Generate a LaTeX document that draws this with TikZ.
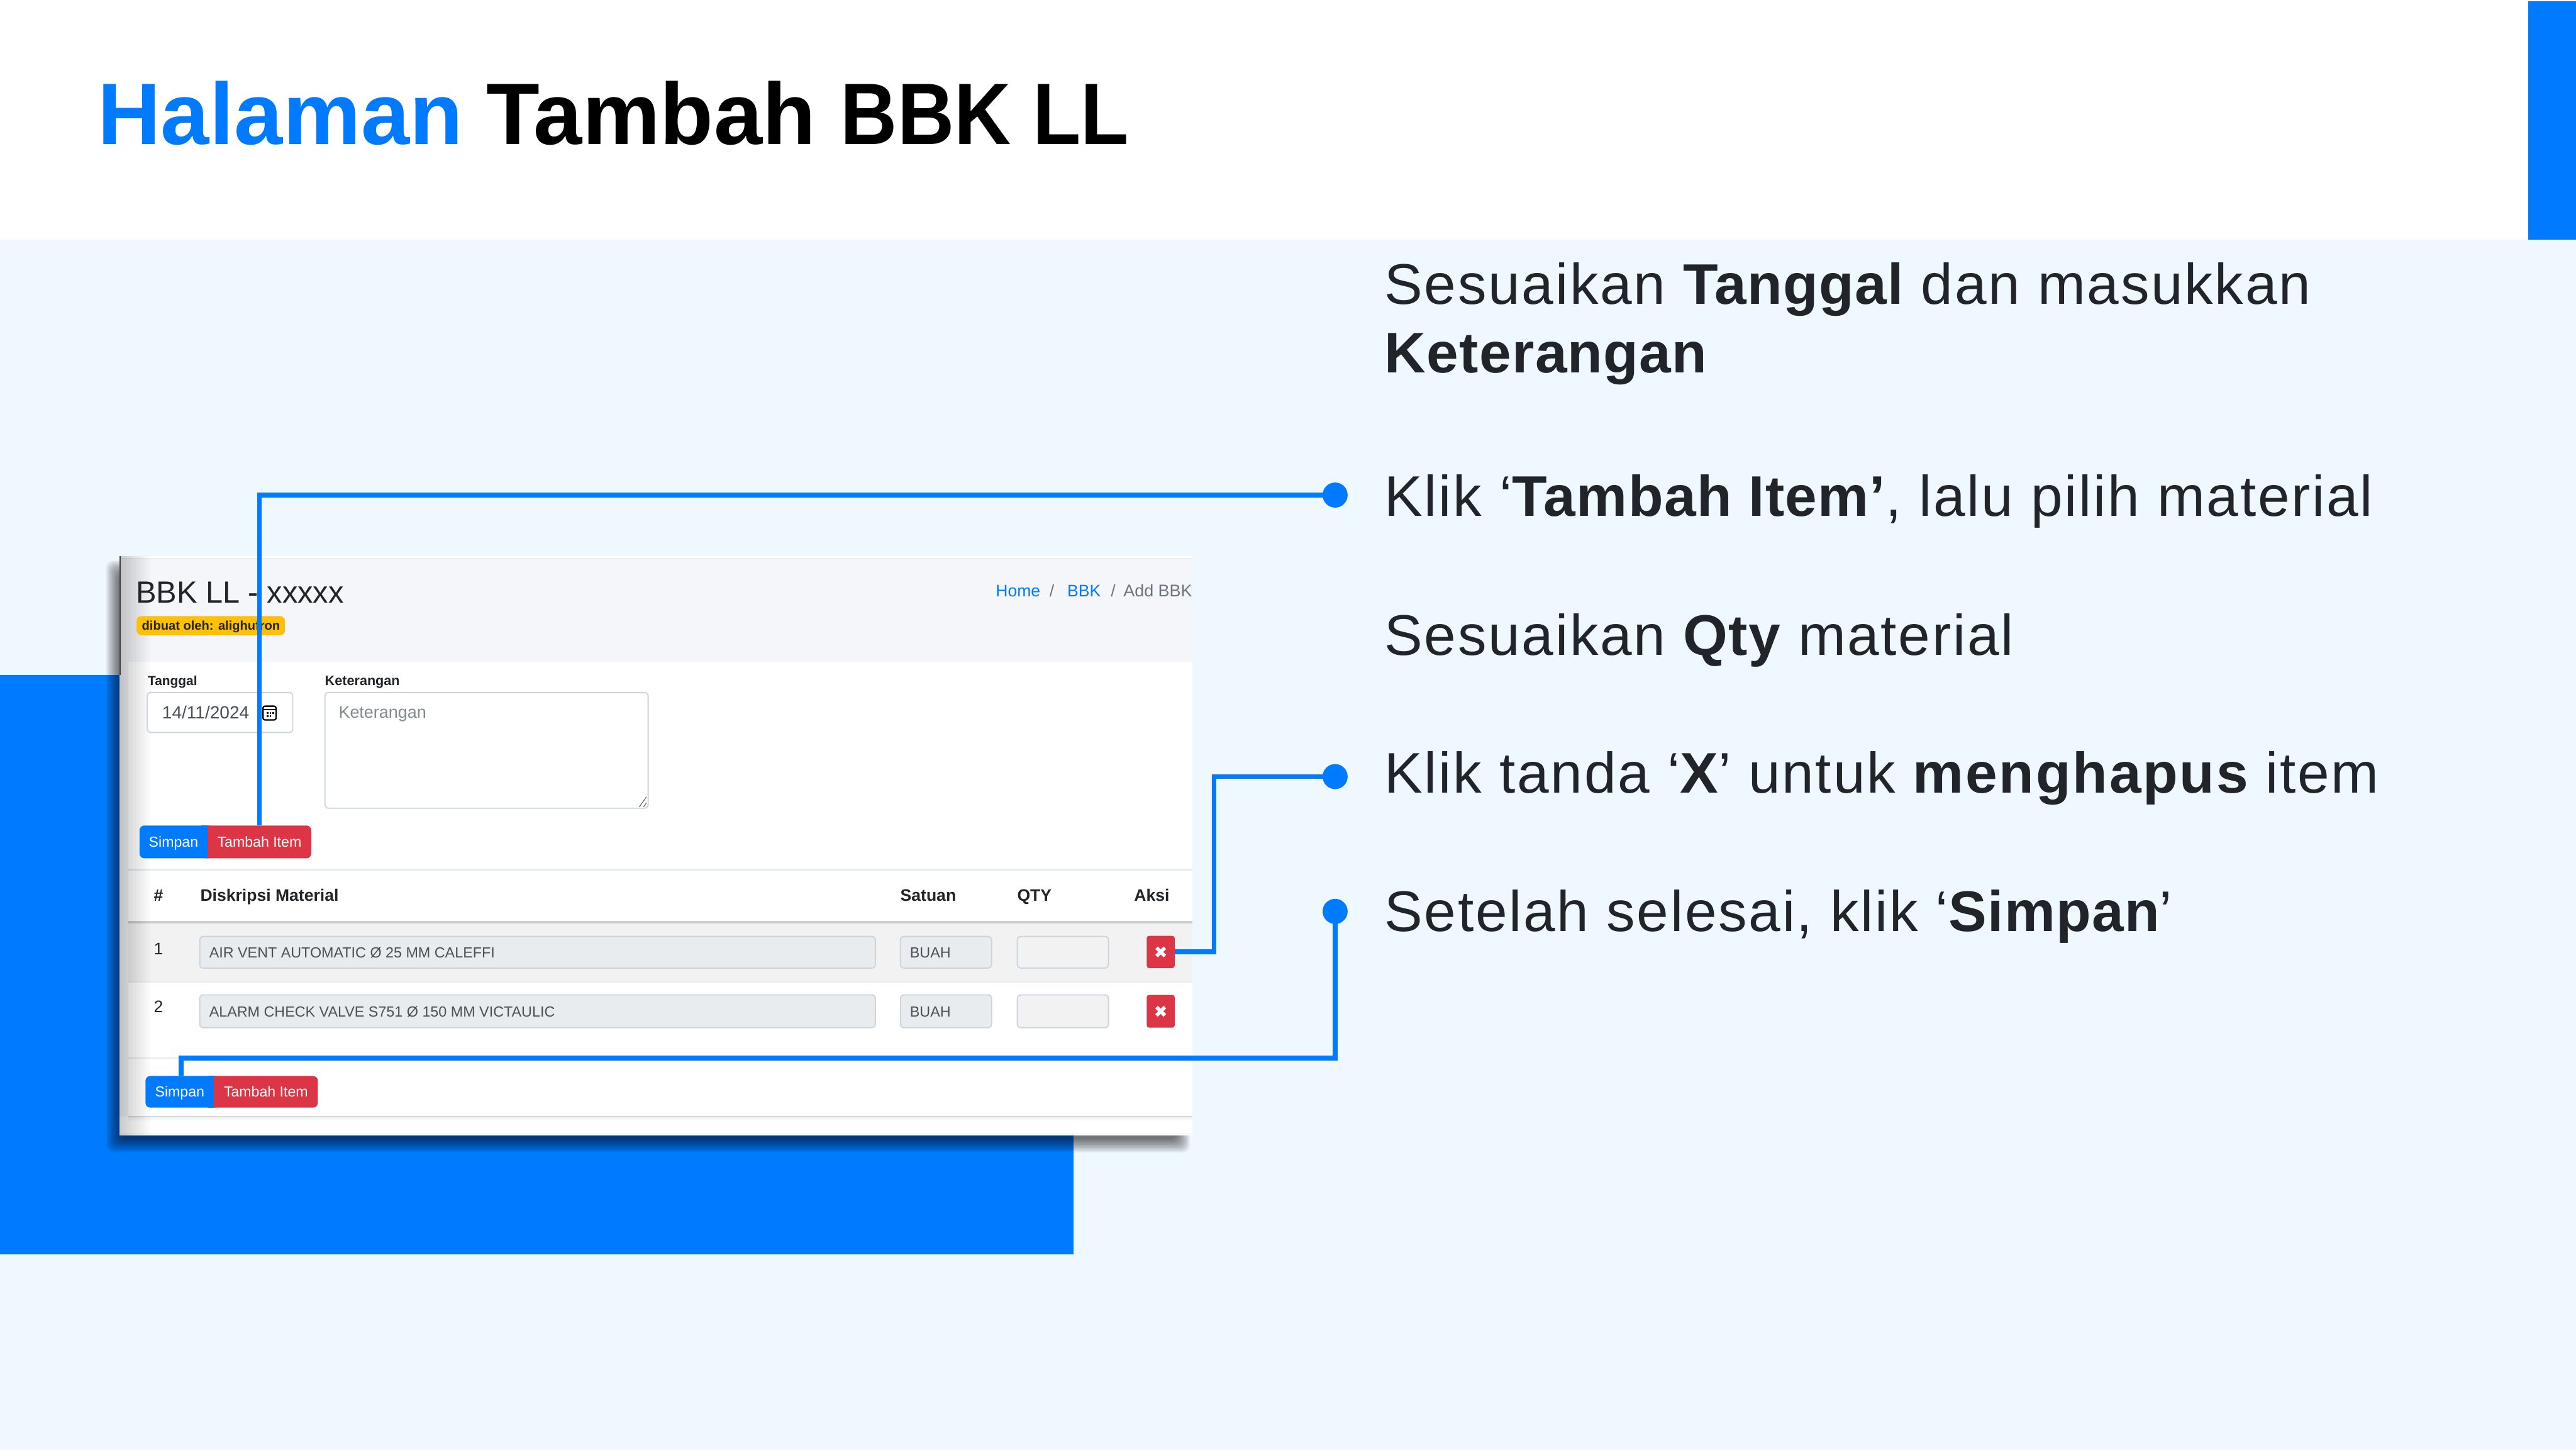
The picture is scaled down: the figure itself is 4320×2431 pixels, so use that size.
\documentclass[tikz,border=0pt]{standalone}
\usepackage{fontspec}
\setmainfont{Liberation Sans}
\newfontfamily\lib{Liberation Sans}
\newfontfamily\rg[LetterSpace=3]{Liberation Sans}
\newfontfamily\bd[LetterSpace=1.5]{Liberation Sans Bold}
\newfontfamily\bdw[LetterSpace=3]{Liberation Sans Bold}
\newfontfamily\tbn[FakeStretch=0.9]{Liberation Sans Bold}
\newfontfamily\tbw[LetterSpace=0.3]{Liberation Sans Bold}
\newcommand\sz[1]{\fontsize{#1}{#1}\selectfont}
\definecolor{mainblue}{HTML}{007BFF}
\definecolor{pagebg}{HTML}{F0F8FF}
\definecolor{ink}{HTML}{212529}
\definecolor{btnred}{HTML}{DC3545}
\definecolor{amber}{HTML}{FFC107}
\definecolor{headbg}{HTML}{F4F6F9}
\definecolor{inbg}{HTML}{E9ECEF}
\definecolor{inline}{HTML}{CED4DA}
\definecolor{hrc}{HTML}{E9ECEF}
\definecolor{graytx}{HTML}{6C757D}
\definecolor{inputtx}{HTML}{495057}
\tikzset{
  txt/.style={anchor=base west,inner sep=0pt,outer sep=0pt},
  slide/.style={txt,text=ink,font=\rg\sz{24}},
  box/.style 2 args={minimum width=#1*0.25pt,minimum height=#2*0.25pt,inner sep=0pt,outer sep=0pt,anchor=center},
  btntxt/.style={text=white,font=\lib\sz{6.1},text height=5pt,text depth=0.75pt},
  dot/.style={circle,fill=mainblue,minimum size=10.5pt,inner sep=0pt,outer sep=0pt},
  link/.style={draw=mainblue,line width=2pt,miter limit=10},
  field/.style={draw=inline,line width=0.5pt,rounded corners=1.5pt},
  hrule/.style={draw=hrc,line width=0.6pt},
  xbtn/.style={fill=btnred,rounded corners=1pt},
  xmark/.style={draw=white,line width=1.5pt},
  cell/.style={txt,text=inputtx,font=\lib\sz{6.15}},
  thead/.style={txt,text=ink,font=\lib\bfseries\sz{7}},
}
\newcommand\btngroup[6]{%
  \fill[mainblue,rounded corners=2pt] (#2,#5) rectangle (#3+10,#6);
  \fill[btnred,rounded corners=2pt] (#3-10,#5) rectangle (#4,#6);
  \fill[mainblue] (#3-10,#5) rectangle (#3,#6);
}
\begin{document}
\begin{tikzpicture}[x=0.25pt,y=-0.25pt]
\useasboundingbox (0,0) rectangle (4320,2431);
% page
\fill[pagebg] (0,0) rectangle (4320,2431);
\fill[white] (0,0) rectangle (4320,402);
\fill[mainblue] (4240,2) rectangle (4320,402);
\fill[mainblue] (0,1132) rectangle (1800,2103);
% title
\node[txt,text=mainblue,font=\tbw\sz{36.6}] (title1) at (164,242) {Halaman};
\node[txt,text=black,font=\tbw\sz{36.6}] (title2) at (816,242) {Tambah};
\node[txt,text=black,font=\tbn\sz{36.6}] (title3) at (1410,242) {BBK LL};
% soft shadow of the screenshot
\foreach \i in {0,...,9}
  \fill[black,opacity=0.07,rounded corners=3pt] (178+2.5*\i,940+2.5*\i) rectangle (1995-2.5*\i,1932-2.5*\i);
% screenshot
\fill[white] (200,932) rectangle (2000,1904);
\fill[headbg] (200,936) rectangle (2000,1872);
\fill[hrc] (200,935) rectangle (2000,937);
\fill[white] (215,1109) rectangle (2000,1872);
\fill[black!15] (215,1871.5) rectangle (2000,1873.5);
\foreach \i in {1,...,3}
  \fill[black,opacity=0.015] (215,1873.5) rectangle (2000,1873.5+2*\i);
\fill[hrc] (200,1900) rectangle (2000,1902);
\fill[headbg] (200,1109) rectangle (215,1872);
% table stripes
\fill[black!5] (215,1547) rectangle (2000,1646);
\draw[hrule] (215,1458) -- (2000,1458);
\draw[draw=black!12!hrc,line width=1pt] (215,1546) -- (2000,1546);
\draw[hrule] (215,1646) -- (2000,1646);
\draw[hrule] (215,1774) -- (2000,1774);
% left inner gradient
\foreach \i in {1,...,13}
  \fill[black,opacity=0.017] (200,932) rectangle (200+4*\i,1904);
\draw[black!75,line width=0.5pt] (201,932) -- (201,1132);
% heading
\node[txt,text=ink,font=\lib\sz{12.85}] (h1) at (228,1011) {BBK LL - xxxxx};
\fill[amber,rounded corners=2pt] (229,1033) rectangle (478,1065);
\node[txt,text=ink,font=\lib\bfseries\sz{5.3}] (badge) at (238,1056) {dibuat oleh: alighufron};
\node[txt,text=mainblue,font=\lib\sz{7}] (bc1) at (1670,1000) {Home};
\node[txt,text=graytx,font=\lib\sz{7}] (bc2) at (1760,1000) {/};
\node[txt,text=mainblue,font=\lib\sz{7}] (bc3) at (1790,1000) {BBK};
\node[txt,text=graytx,font=\lib\sz{7}] (bc4) at (1863,1000) {/};
\node[txt,text=graytx,font=\lib\sz{7.1}] (bc5) at (1884,1000) {Add BBK};
% form
\node[txt,text=ink,font=\lib\bfseries\sz{5.5}] (l1) at (248,1149) {Tanggal};
\node[txt,text=ink,font=\lib\bfseries\sz{5.7}] (l2) at (545,1149) {Keterangan};
\draw[field,fill=white] (247,1161) rectangle (491,1228);
\node[txt,text=inputtx,font=\lib\sz{7.4}] (date) at (272,1205) {14/11/2024};
\draw[black,line width=0.6pt,rounded corners=0.8pt] (441,1184) rectangle (463,1207);
\draw[black,line width=0.5pt] (441,1190) -- (463,1190);
\foreach \a in {447,452,457} \fill[black] (\a,1194) rectangle (\a+3,1197);
\foreach \a in {447,452} \fill[black] (\a,1199) rectangle (\a+3,1202);
\draw[field,fill=white] (545,1161) rectangle (1087,1355);
\node[txt,text=graytx!85!white,font=\lib\sz{7.1}] (ph) at (568,1204) {Keterangan};
\draw[black!60,line width=0.3pt] (1072,1353) -- (1084,1336) (1079,1353) -- (1084,1346);
% top buttons
\btngroup{t}{234}{348}{522}{1384}{1439}
\node[box={114}{55},btntxt] (simpanT) at (291,1411.5) {Simpan};
\node[box={174}{55},btntxt] (tambah) at (435,1411.5) {Tambah Item};
% table header
\node[thead] (th1) at (258,1511) {\#};
\node[thead] (th2) at (336,1511) {Diskripsi Material};
\node[thead] (th3) at (1510,1511) {Satuan};
\node[thead] (th4) at (1706,1511) {QTY};
\node[thead] (th5) at (1902,1511) {Aksi};
% row 1
\node[txt,text=ink,font=\lib\sz{7}] (n1) at (258,1600) {1};
\draw[field,fill=inbg] (335,1570) rectangle (1468,1623);
\node[cell] (c1) at (351,1606) {AIR VENT AUTOMATIC Ø 25 MM CALEFFI};
\draw[field,fill=inbg] (1510,1570) rectangle (1663,1623);
\node[cell] (u1) at (1526,1606) {BUAH};
\draw[field,fill=black!5] (1706,1570) rectangle (1859,1623);
\node[box={47}{54},xbtn] (hapus1) at (1946.5,1596) {};
\draw[xmark] (1939.5,1589) -- (1953.5,1603) (1953.5,1589) -- (1939.5,1603);
% row 2
\node[txt,text=ink,font=\lib\sz{7}] (n2) at (258,1698) {2};
\draw[field,fill=inbg] (335,1668) rectangle (1468,1723);
\node[cell] (c2) at (351,1705) {ALARM CHECK VALVE S751 Ø 150 MM VICTAULIC};
\draw[field,fill=inbg] (1510,1668) rectangle (1663,1723);
\node[cell] (u2) at (1526,1705) {BUAH};
\draw[field,fill=black!5] (1706,1668) rectangle (1859,1723);
\node[box={47}{55},xbtn] (hapus2) at (1946.5,1695.5) {};
\draw[xmark] (1939.5,1688.5) -- (1953.5,1702.5) (1953.5,1688.5) -- (1939.5,1702.5);
% bottom buttons
\btngroup{b}{244}{359}{533}{1804}{1857}
\node[box={115}{53},btntxt] (simpan) at (301.5,1830.5) {Simpan};
\node[box={174}{53},btntxt] (tambahB) at (446,1830.5) {Tambah Item};
% right-hand texts
\node[slide] (s1) at (2322,510) {Sesuaikan {\bd Tanggal} dan masukkan};
\node[txt,text=ink,font=\bd\sz{24}] (s1b) at (2322,625) {Keterangan};
\node[slide] (s2) at (2322,865) {Klik ‘{\bd Tambah Item’}, lalu pilih material};
\node[slide] (s3) at (2322,1098) {Sesuaikan {\bd Qty} material};
\node[slide] (s4) at (2322,1329) {Klik tanda ‘{\bd X}’ untuk {\bdw menghapus} item};
\node[slide] (s5) at (2322,1561) {Setelah selesai, klik ‘{\bd Simpan}’};
% dots and connectors
\node[dot] (d1) at (2239,830) {};
\node[dot] (d2) at (2239,1302) {};
\node[dot] (d3) at (2239,1528) {};
\coordinate (bend2) at (2036,1302);
\coordinate (bend2b) at (2036,1596);
\coordinate (bend3) at (2239,1774);
\coordinate (bend3b) at (304,1774);
\coordinate (simpanTop) at (304,1804);
\draw[link] (d1.center) -| (tambah.north);
\draw[link] (d2.center) -- (bend2) -- (bend2b) -- (hapus1.east);
\draw[link] (d3.center) -- (bend3) -- (bend3b) -- (simpanTop);
\end{tikzpicture}
\end{document}
